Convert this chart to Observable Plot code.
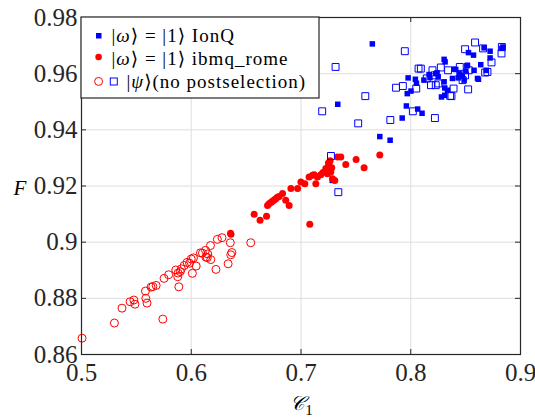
<!DOCTYPE html>
<html><head><meta charset="utf-8">
<script src="https://cdn.jsdelivr.net/npm/d3@7"></script>
<script src="https://cdn.jsdelivr.net/npm/@observablehq/plot@0.6"></script>
<style>body{margin:0;background:#fff}</style>
</head><body><div id="chart"></div>
<script>
// Tick values
const xTicks = [0.5, 0.6, 0.7, 0.8, 0.9];
const yTicks = [0.86, 0.88, 0.9, 0.92, 0.94, 0.96, 0.98];

// [C1, F] — |ω⟩=|1⟩ IonQ (filled blue squares)
const ionqPost = [[0.7650,0.9706],[0.7335,0.9491],[0.7285,0.9220],[0.7718,0.9376],[0.7812,0.9363],[0.7922,0.9442],[0.7960,0.9485],[0.7976,0.9585],[0.7968,0.9529],[0.8002,0.9538],[0.8042,0.9580],[0.8052,0.9566],[0.8063,0.9474],[0.8103,0.9459],[0.8120,0.9577],[0.8167,0.9597],[0.8175,0.9586],[0.8228,0.9600],[0.8240,0.9603],[0.8250,0.9589],[0.8304,0.9651],[0.8313,0.9642],[0.8304,0.9571],[0.8310,0.9549],[0.8335,0.9541],[0.8280,0.9517],[0.8310,0.9523],[0.8380,0.9583],[0.8395,0.9616],[0.8410,0.9615],[0.8432,0.9585],[0.8440,0.9600],[0.8456,0.9594],[0.8470,0.9591],[0.8486,0.9577],[0.8502,0.9609],[0.8511,0.9628],[0.8517,0.9630],[0.8526,0.9675],[0.8572,0.9666],[0.8577,0.9612],[0.8608,0.9583],[0.8617,0.9580],[0.8638,0.9632],[0.8668,0.9692],[0.8688,0.9612],[0.8723,0.9680],[0.8723,0.9656],[0.8830,0.9690],[0.8840,0.9695]];

// |ω⟩=|1⟩ ibmq_rome (filled red circles)
const romePost = [[0.6358,0.9032],[0.6362,0.9028],[0.6573,0.9099],[0.6627,0.9078],[0.6686,0.9092],[0.6695,0.9131],[0.6709,0.9137],[0.6725,0.9141],[0.6740,0.9146],[0.6755,0.9150],[0.6770,0.9155],[0.6785,0.9160],[0.6801,0.9163],[0.6832,0.9173],[0.6861,0.9149],[0.6892,0.9131],[0.6908,0.9191],[0.6969,0.9191],[0.6999,0.9214],[0.7035,0.9208],[0.7074,0.9232],[0.7080,0.9064],[0.7105,0.9238],[0.7120,0.9240],[0.7135,0.9208],[0.7150,0.9232],[0.7180,0.9240],[0.7200,0.9248],[0.7226,0.9262],[0.7241,0.9244],[0.7256,0.9274],[0.7250,0.9282],[0.7265,0.9290],[0.7271,0.9250],[0.7280,0.9265],[0.7287,0.9226],[0.7308,0.9220],[0.7333,0.9303],[0.7363,0.9303],[0.7408,0.9277],[0.7502,0.9294],[0.7575,0.9265],[0.7718,0.9310]];

// |ψ⟩ no postselection, ibmq_rome (open red circles)
const romeNoPost = [[0.5005,0.8658],[0.5300,0.8712],[0.5741,0.8726],[0.5369,0.8765],[0.5443,0.8788],[0.5477,0.8794],[0.5487,0.8779],[0.5586,0.8800],[0.5597,0.8783],[0.5583,0.8826],[0.5634,0.8840],[0.5650,0.8842],[0.5680,0.8846],[0.5752,0.8871],[0.5794,0.8884],[0.5859,0.8901],[0.5887,0.8841],[0.5877,0.8877],[0.5880,0.8890],[0.5936,0.8917],[0.5962,0.8928],[0.5985,0.8925],[0.6010,0.8889],[0.6045,0.8915],[0.6020,0.8944],[0.6000,0.8940],[0.6084,0.8962],[0.6102,0.8961],[0.6130,0.8971],[0.6150,0.8958],[0.6146,0.8945],[0.6133,0.8947],[0.6175,0.8988],[0.6178,0.8938],[0.6225,0.8903],[0.6238,0.9010],[0.6280,0.9016],[0.6356,0.8998],[0.6370,0.8963],[0.6360,0.8955],[0.6336,0.8923],[0.6542,0.8998],[0.5900,0.8895],[0.5910,0.8905]];

// |ψ⟩ no postselection, IonQ (open blue squares)
const ionqNoPost = [[0.7315,0.9624],[0.7946,0.9680],[0.7193,0.9466],[0.7586,0.9520],[0.7521,0.9423],[0.7273,0.9307],[0.7340,0.9178],[0.7814,0.9435],[0.7866,0.9550],[0.7928,0.9556],[0.8019,0.9466],[0.8050,0.9547],[0.8071,0.9618],[0.8092,0.9618],[0.8146,0.9583],[0.8184,0.9559],[0.8198,0.9612],[0.8219,0.9594],[0.8220,0.9442],[0.8228,0.9559],[0.8252,0.9565],[0.8274,0.9622],[0.8340,0.9612],[0.8359,0.9521],[0.8371,0.9520],[0.8390,0.9547],[0.8447,0.9624],[0.8472,0.9577],[0.8495,0.9687],[0.8495,0.9594],[0.8523,0.9544],[0.8529,0.9612],[0.8586,0.9711],[0.8659,0.9690],[0.8678,0.9604],[0.8699,0.9606],[0.8736,0.9640],[0.8827,0.9672],[0.8830,0.9695]];

const legendRows = [
  {pre: "|", it: "ω", post: "⟩ = |1⟩ IonQ"},
  {pre: "|", it: "ω", post: "⟩ = |1⟩ ibmq_rome"},
  {pre: "|", it: "ψ", post: "⟩(no postselection)"}
];
const yLabel = "F";
const xLabelMain = "𝒞";
const xLabelSub = "1";

const W = 535, H = 417;
const mL = 81, mR = 15, mT = 17, mB = 63;
const plotH = H - mT - mB, plotW = W - mL - mR;
const serif = "'Liberation Serif', 'DejaVu Serif', serif";
const BLUE = "#0000ff", RED = "#ff0000", AX = "#262626";

function legendMark(index, scales, values, dims) {
  const g = d3.create("svg:g").attr("font-family", serif).attr("font-size", 19)
    .attr("letter-spacing", 1).attr("fill", "#000").attr("text-anchor", "start");
  const x0 = dims.marginLeft, y0 = dims.marginTop;
  g.append("rect").attr("x", x0).attr("y", y0).attr("width", 238).attr("height", 81)
    .attr("fill", "white").attr("stroke", AX).attr("stroke-width", 1.2);
  g.append("rect").attr("x", x0 + 15).attr("y", y0 + 16).attr("width", 5.5).attr("height", 5.5).attr("fill", BLUE);
  g.append("circle").attr("cx", x0 + 17.6).attr("cy", y0 + 40).attr("r", 3.3).attr("fill", RED);
  g.append("circle").attr("cx", x0 + 17.6).attr("cy", y0 + 64.4).attr("r", 4).attr("fill", "none").attr("stroke", RED).attr("stroke-width", 1);
  g.append("rect").attr("x", x0 + 29.3).attr("y", y0 + 61).attr("width", 7).attr("height", 7).attr("fill", "none").attr("stroke", BLUE).attr("stroke-width", 1);
  const pos = [[30.5, 25], [30.5, 47.5], [45.5, 70.5]];
  legendRows.forEach((r, i) => {
    const t = g.append("text").attr("x", x0 + pos[i][0]).attr("y", y0 + pos[i][1]);
    t.append("tspan").text(r.pre);
    t.append("tspan").attr("font-style", "italic").text(r.it);
    t.append("tspan").text(r.post);
  });
  return g.node();
}

function labelsMark(index, scales, values, dims) {
  const g = d3.create("svg:g").attr("font-family", serif).attr("fill", "#000");
  g.append("text").attr("x", 20).attr("y", 195)
    .attr("text-anchor", "middle").attr("font-size", 21).attr("font-style", "italic").text(yLabel);
  const t = g.append("text").attr("x", dims.marginLeft + plotW / 2 + 1).attr("y", 410)
    .attr("text-anchor", "middle").attr("font-size", 20);
  t.append("tspan").attr("font-style", "italic").text(xLabelMain);
  t.append("tspan").attr("font-size", 15).attr("dy", 5).text(xLabelSub);
  return g.node();
}

const fmt = d => String(+d.toFixed(2));

const chart = Plot.plot({
  width: W, height: H,
  marginLeft: mL, marginRight: mR, marginTop: mT, marginBottom: mB,
  style: {fontFamily: serif, fontSize: "24px", background: "white", color: "#262626"},
  x: {domain: [0.5, 0.9]},
  y: {domain: [0.86, 0.98]},
  marks: [
    Plot.gridX(xTicks, {stroke: "#dedede", strokeOpacity: 1, strokeWidth: 1}),
    Plot.gridY(yTicks, {stroke: "#dedede", strokeOpacity: 1, strokeWidth: 1}),
    Plot.tickX(xTicks, {x: d => d, insetTop: plotH - 5, stroke: AX}),
    Plot.tickX(xTicks, {x: d => d, insetBottom: plotH - 5, stroke: AX}),
    Plot.tickY(yTicks, {y: d => d, insetRight: plotW - 5, stroke: AX}),
    Plot.tickY(yTicks, {y: d => d, insetLeft: plotW - 5, stroke: AX}),
    Plot.axisX(xTicks, {tickSize: 0, tickPadding: 9, tickFormat: fmt, fontSize: 25, fill: "#262626", label: null}),
    Plot.axisY(yTicks, {tickSize: 0, tickPadding: 4, tickFormat: fmt, fontSize: 25, fill: "#262626", label: null}),
    Plot.dot(ionqPost, {x: d => d[0], y: d => d[1], symbol: "square", r: 3.1, fill: BLUE, stroke: "none"}),
    Plot.dot(romePost, {x: d => d[0], y: d => d[1], r: 3.5, fill: RED, stroke: "none"}),
    Plot.dot(romeNoPost, {x: d => d[0], y: d => d[1], r: 4, fill: "none", stroke: RED, strokeWidth: 1}),
    Plot.dot(ionqNoPost, {x: d => d[0], y: d => d[1], symbol: "square", r: 3.9, fill: "none", stroke: BLUE, strokeWidth: 1}),
    Plot.frame({stroke: AX, strokeWidth: 1.2}),
    legendMark,
    labelsMark
  ]
});
document.getElementById("chart").appendChild(chart);
</script>
</body></html>
